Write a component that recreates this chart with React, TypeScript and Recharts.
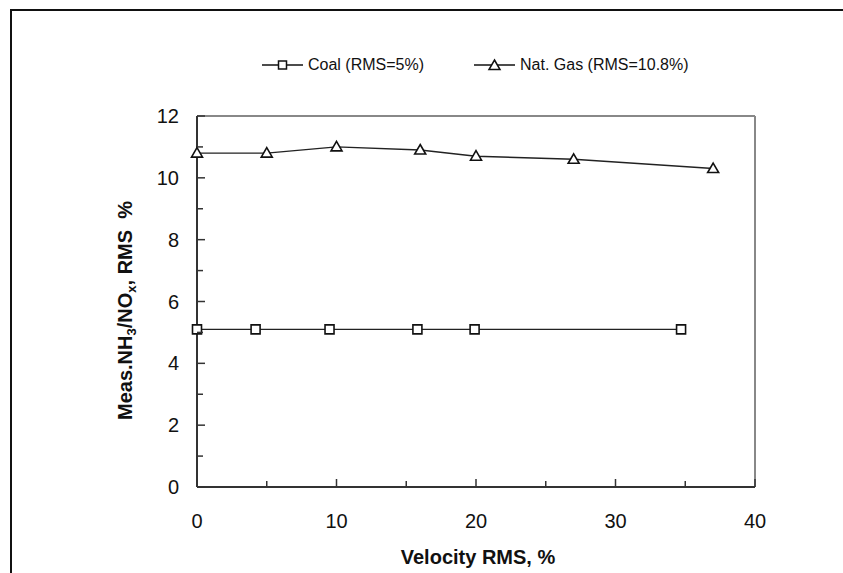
import React from "react";
import {
  LineChart,
  Line,
  XAxis,
  YAxis,
  Legend,
  ReferenceLine,
} from "recharts";

// Coal series
const coalVelocity = [0, 4.2, 9.5, 15.8, 19.9, 34.7];
const coalRms = [5.1, 5.1, 5.1, 5.1, 5.1, 5.1];

// Natural gas series
const gasVelocity = [0, 5, 10, 16, 20, 27, 37];
const gasRms = [10.8, 10.8, 11.0, 10.9, 10.7, 10.6, 10.3];

const xTicks = [0, 5, 10, 15, 20, 25, 30, 35, 40];
const yTicks = [0, 1, 2, 3, 4, 5, 6, 7, 8, 9, 10, 11, 12];

const coalData = coalVelocity.map((x, i) => ({ x, y: coalRms[i] }));
const gasData = gasVelocity.map((x, i) => ({ x, y: gasRms[i] }));

const FONT = '"Liberation Sans", Arial, sans-serif';
const INK = "#111";

function squarePath(cx: number, cy: number, s = 4.5) {
  return `M${cx - s},${cy - s}h${2 * s}v${2 * s}h${-2 * s}Z`;
}

function trianglePath(cx: number, cy: number) {
  return `M${cx},${cy - 5.5}L${cx + 5.5},${cy + 4}L${cx - 5.5},${cy + 4}Z`;
}

const SquareDot = (p: any) => (
  <path
    key={`sq-${p.index}`}
    d={squarePath(p.cx, p.cy)}
    fill="#fff"
    stroke={INK}
    strokeWidth={1.6}
  />
);

const TriangleDot = (p: any) => (
  <path
    key={`tr-${p.index}`}
    d={trianglePath(p.cx, p.cy)}
    fill="#fff"
    stroke={INK}
    strokeWidth={1.6}
  />
);

// Ticks point inward; only every other tick carries a label
const XTick = ({ x, y, payload }: any) => {
  const major = payload.value % 10 === 0;
  return (
    <g>
      <line x1={x} y1={y} x2={x} y2={y - (major ? 8 : 6)} stroke="#333" strokeWidth={1.5} />
      {major && (
        <text x={x} y={y + 41} textAnchor="middle" fontSize={20} fontFamily={FONT} fill={INK}>
          {payload.value}
        </text>
      )}
    </g>
  );
};

const YTick = ({ x, y, payload }: any) => {
  const major = payload.value % 2 === 0;
  return (
    <g>
      <line x1={x} y1={y} x2={x + (major ? 8 : 6)} y2={y} stroke="#333" strokeWidth={1.5} />
      {major && (
        <text x={x - 18} y={y + 7} textAnchor="end" fontSize={20} fontFamily={FONT} fill={INK}>
          {payload.value}
        </text>
      )}
    </g>
  );
};

const XLabel = ({ viewBox }: any) => (
  <text
    x={viewBox.x + viewBox.width / 2 + 2}
    y={viewBox.y + 77}
    textAnchor="middle"
    fontSize={20}
    fontWeight="bold"
    fontFamily={FONT}
    fill={INK}
  >
    Velocity RMS, %
  </text>
);

const YLabel = ({ viewBox }: any) => {
  const cx = viewBox.x + viewBox.width - 65;
  const cy = viewBox.y + viewBox.height / 2 + 9;
  return (
    <text
      x={cx}
      y={cy}
      transform={`rotate(-90 ${cx} ${cy})`}
      textAnchor="middle"
      fontSize={20}
      fontWeight="bold"
      fontFamily={FONT}
      fill={INK}
    >
      Meas.NH
      <tspan fontSize={13} dy={4}>3</tspan>
      <tspan dy={-4}>/NO</tspan>
      <tspan fontSize={13} dy={4}>x</tspan>
      <tspan dy={-4}>{", RMS\u00a0\u00a0%"}</tspan>
    </text>
  );
};

const legendItems = [
  { name: "Coal (RMS=5%)", marker: "square" },
  { name: "Nat. Gas (RMS=10.8%)", marker: "triangle" },
];

const ChartLegend = () => (
  <div style={{ display: "flex", alignItems: "center", fontFamily: FONT, fontSize: 16, color: INK }}>
    {legendItems.map((item, i) => (
      <div key={item.name} style={{ display: "flex", alignItems: "center", marginRight: i === 0 ? 50 : 0 }}>
        <svg width={41} height={14} style={{ marginRight: 5 }}>
          <line x1={0} y1={7} x2={41} y2={7} stroke={INK} strokeWidth={1.3} />
          <path
            d={item.marker === "square" ? squarePath(20.5, 7, 4) : trianglePath(20.5, 7.5)}
            fill="#fff"
            stroke={INK}
            strokeWidth={1.5}
          />
        </svg>
        <span>{item.name}</span>
      </div>
    ))}
  </div>
);

export default function App() {
  return (
    <div
      style={{
        position: "absolute",
        left: 0,
        top: 0,
        width: 843,
        height: 573,
        background: "#fff",
        overflow: "hidden",
      }}
    >
      {/* outer frame: only its left and top edges fall inside the page */}
      <div
        style={{
          position: "absolute",
          left: 10,
          top: 9,
          width: 840,
          height: 570,
          borderLeft: "2px solid #111",
          borderTop: "2px solid #111",
        }}
      />
      <div style={{ position: "absolute", left: 0, top: 0 }}>
        <LineChart width={843} height={573} margin={{ top: 116, right: 88, bottom: 26, left: 137 }}>
          <XAxis
            type="number"
            dataKey="x"
            domain={[0, 40]}
            ticks={xTicks}
            interval={0}
            height={60}
            tickSize={0}
            tickMargin={0}
            tick={<XTick />}
            tickLine={false}
            axisLine={{ stroke: "#333", strokeWidth: 2 }}
            allowDuplicatedCategory={false}
            label={<XLabel />}
          />
          <YAxis
            type="number"
            dataKey="y"
            domain={[0, 12]}
            ticks={yTicks}
            interval={0}
            width={60}
            tickSize={0}
            tickMargin={0}
            tick={<YTick />}
            tickLine={false}
            axisLine={{ stroke: "#333", strokeWidth: 2 }}
            label={<YLabel />}
          />
          <ReferenceLine y={12} stroke="#888" strokeWidth={2} />
          <ReferenceLine x={40} stroke="#888" strokeWidth={2} />
          <Legend
            verticalAlign="middle"
            content={<ChartLegend />}
            wrapperStyle={{ top: 56, left: 262, width: "auto" }}
          />
          <Line
            data={coalData}
            dataKey="y"
            name="Coal (RMS=5%)"
            stroke="#222"
            strokeWidth={1.4}
            dot={SquareDot}
            activeDot={false}
            isAnimationActive={false}
          />
          <Line
            data={gasData}
            dataKey="y"
            name="Nat. Gas (RMS=10.8%)"
            stroke="#222"
            strokeWidth={1.4}
            dot={TriangleDot}
            activeDot={false}
            isAnimationActive={false}
          />
        </LineChart>
      </div>
    </div>
  );
}
